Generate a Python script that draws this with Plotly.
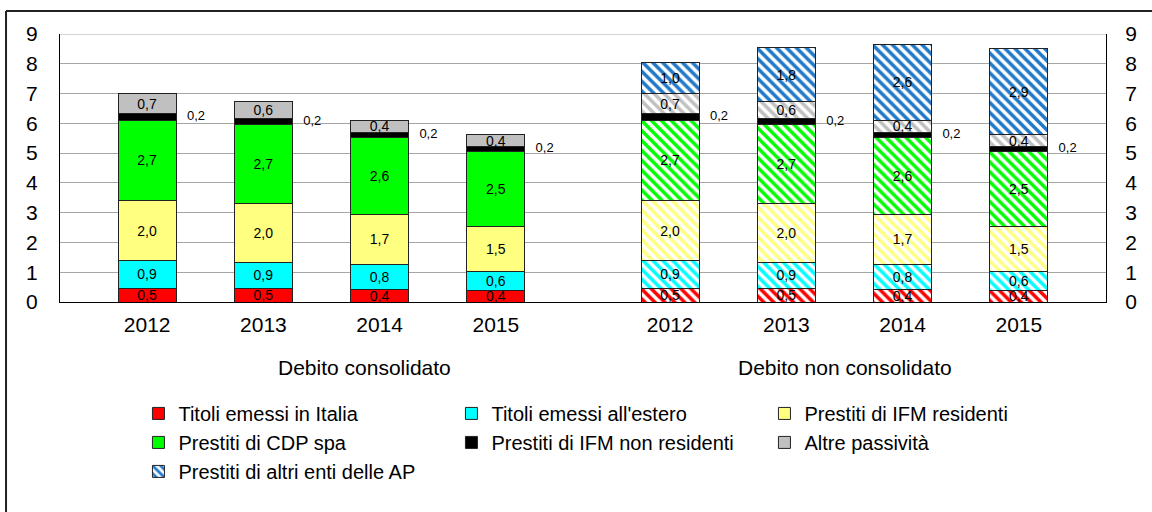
import plotly.graph_objects as go

# ---------------- data ----------------
years = ["2012", "2013", "2014", "2015"]
groups = ["Debito consolidato", "Debito non consolidato"]

series_names = [
    "Titoli emessi in Italia",
    "Titoli emessi all'estero",
    "Prestiti di IFM residenti",
    "Prestiti di CDP spa",
    "Prestiti di IFM non residenti",
    "Altre passività",
    "Prestiti di altri enti delle AP",
]

titoli_italia = [0.47, 0.46, 0.41, 0.39]
titoli_estero = [0.91, 0.87, 0.84, 0.62]
ifm_residenti = [2.04, 1.98, 1.70, 1.54]
cdp = [2.68, 2.66, 2.56, 2.50]
ifm_non_residenti = [0.22, 0.20, 0.19, 0.18]
altre_passivita = [0.69, 0.56, 0.40, 0.38]
altri_enti_ap = [1.03, 1.81, 2.56, 2.91]   # only in "Debito non consolidato"

y_max = 9

# ---------------- style ----------------
colors = ["#FF0000", "#00FFFF", "#FFFF80", "#00FF00", "#000000", "#C0C0C0", "#1F78C8"]
FONT = "Liberation Sans, Arial, sans-serif"

# positions of the categories on a numeric x axis (two groups with a gap)
pos_cons = [0.75 + i for i in range(len(years))]
pos_non = [5.25 + i for i in range(len(years))]
positions = pos_cons + pos_non


def fmt(v):
    return f"{v:.1f}".replace(".", ",")


def stripes(c):
    return dict(shape="\\", fgcolor=c, bgcolor="#FFFFFF", size=7,
                solidity=0.5, fillmode="replace")


fig = go.Figure()

shared = [titoli_italia, titoli_estero, ifm_residenti, cdp, ifm_non_residenti, altre_passivita]

# consolidated debt: solid fills (these carry the legend entries)
for k, vals in enumerate(shared):
    is_black = (k == 4)
    fig.add_trace(go.Bar(
        name=series_names[k], legendgroup=series_names[k],
        x=pos_cons, y=vals, width=0.5,
        text=None if is_black else [fmt(v) for v in vals],
        textposition="inside", insidetextanchor="middle", textangle=0,
        constraintext="none",
        insidetextfont=dict(family=FONT, size=14, color="#000000"),
        marker=dict(color=colors[k], line=dict(color="#222222", width=1)),
        hoverinfo="skip",
    ))

# non-consolidated debt: hatched fills (black segment stays solid)
for k, vals in enumerate(shared):
    is_black = (k == 4)
    mk = dict(color=colors[k], line=dict(color="#222222", width=1))
    if not is_black:
        mk["pattern"] = stripes(colors[k])
    fig.add_trace(go.Bar(
        name=series_names[k], legendgroup=series_names[k], showlegend=False,
        x=pos_non, y=vals, width=0.5,
        text=None if is_black else [fmt(v) for v in vals],
        textposition="inside", insidetextanchor="middle", textangle=0,
        constraintext="none",
        insidetextfont=dict(family=FONT, size=14, color="#000000"),
        marker=mk,
        hoverinfo="skip",
    ))

# extra series, only for the non-consolidated debt
fig.add_trace(go.Bar(
    name=series_names[6], legendgroup=series_names[6],
    x=pos_non, y=altri_enti_ap, width=0.5,
    text=[fmt(v) for v in altri_enti_ap],
    textposition="inside", insidetextanchor="middle", textangle=0,
    constraintext="none",
    insidetextfont=dict(family=FONT, size=14, color="#000000"),
    marker=dict(color=colors[6], line=dict(color="#222222", width=1),
                pattern=stripes(colors[6])),
    hoverinfo="skip",
))

# "0,2" labels beside the thin black segments (placed at the segment middle)
below_black = [a + b + c + d for a, b, c, d in zip(titoli_italia, titoli_estero, ifm_residenti, cdp)]
mid_black = [s + h / 2 for s, h in zip(below_black, ifm_non_residenti)]
fig.add_trace(go.Scatter(
    x=[p + 0.42 for p in positions],
    y=mid_black + mid_black,
    mode="text",
    text=[fmt(v) for v in ifm_non_residenti + ifm_non_residenti],
    textposition="middle center",
    textfont=dict(family=FONT, size=13, color="#000000"),
    showlegend=False,
    hoverinfo="skip",
    yaxis="y2",
))

# group labels
group_x = [2.62, sum(pos_non) / len(pos_non)]
annotations = []
for gx, gname in zip(group_x, groups):
    annotations.append(dict(
        x=gx, y=-0.246, xref="x", yref="paper",
        text=gname, showarrow=False,
        font=dict(family=FONT, size=21, color="#000000"),
        xanchor="center", yanchor="middle",
    ))

fig.update_layout(
    width=1152,
    height=512,
    barmode="stack",
    plot_bgcolor="#FFFFFF",
    paper_bgcolor="#FFFFFF",
    margin=dict(l=60, r=46, t=34, b=210, autoexpand=False),
    font=dict(family=FONT, color="#000000"),
    xaxis=dict(
        range=[0, 9],
        tickvals=positions,
        ticktext=years + years,
        tickfont=dict(family=FONT, size=21, color="#000000"),
        showline=True, linecolor="#000000", linewidth=1,
        showgrid=False, zeroline=False, ticks="",
        ticklabelstandoff=4,
        fixedrange=True,
    ),
    yaxis=dict(
        range=[0, y_max], dtick=1,
        tickfont=dict(family=FONT, size=21, color="#000000"),
        showline=True, linecolor="#000000", linewidth=1,
        showgrid=True, gridcolor="#A6A6A6", gridwidth=1,
        zeroline=False, ticks="",
        ticklabelstandoff=17,
    ),
    yaxis2=dict(
        range=[0, y_max], dtick=1, overlaying="y", side="right",
        tickfont=dict(family=FONT, size=21, color="#000000"),
        showline=True, linecolor="#000000", linewidth=1,
        showgrid=False, zeroline=False, ticks="",
        ticklabelstandoff=14,
    ),
    legend=dict(
        orientation="h",
        x=0.075, y=-0.343, xanchor="left", yanchor="top",
        entrywidth=268,
        font=dict(family=FONT, size=20, color="#000000"),
        traceorder="normal",
        bgcolor="rgba(0,0,0,0)",
    ),
    annotations=annotations,
    shapes=[
        # lighter top gridline, as in the reference
        dict(type="line", xref="paper", yref="y", layer="below",
             x0=0, x1=1, y0=y_max, y1=y_max,
             line=dict(color="#D4D4D4", width=2)),
        # outer frame (top and left edges visible)
        dict(type="line", xref="paper", yref="paper",
             x0=-0.0516, x1=1.2, y0=1.0858, y1=1.0858,
             line=dict(color="#222222", width=2)),
        dict(type="line", xref="paper", yref="paper",
             x0=-0.0516, x1=-0.0516, y0=1.0858, y1=-1.2,
             line=dict(color="#222222", width=2)),
    ],
    showlegend=True,
)

fig.write_html("out.html", config={"displayModeBar": False},
               post_script="document.body.style.margin='0';")
